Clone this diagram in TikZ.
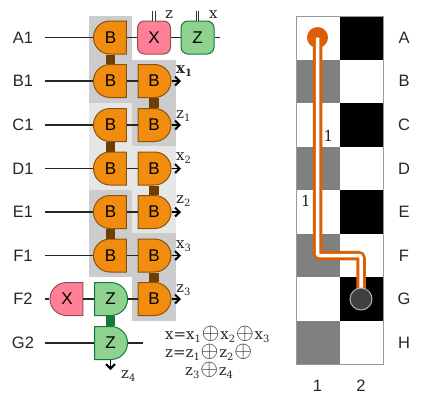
\documentclass[tikz,border=0pt]{standalone}
\usepackage{fontspec}
\usetikzlibrary{shapes.misc,arrows.meta}
\newfontfamily\labfont{Liberation Sans}
\newfontfamily\serfont{DejaVu Serif}
\newcommand{\bop}{\hspace{0.8pt}\raisebox{0.2pt}{\fontsize{17.28}{18}\selectfont\scalebox{1.32}{$\oplus$}}\hspace{0.8pt}}
\newcommand{\sbs}[1]{\raisebox{-3pt}{\fontsize{10}{10}\selectfont #1}}
\definecolor{gdark}{HTML}{CCCCCC}
\definecolor{glight}{HTML}{E6E6E6}
\definecolor{orfill}{HTML}{F28C0F}
\definecolor{ordraw}{HTML}{8A5410}
\definecolor{brownlink}{HTML}{6E3F00}
\definecolor{redfill}{HTML}{FF8096}
\definecolor{reddraw}{HTML}{8C4F5A}
\definecolor{grfill}{HTML}{8FD18F}
\definecolor{grdraw}{HTML}{117A3C}
\definecolor{pathor}{HTML}{DD5F05}
\definecolor{cellgray}{HTML}{808080}
\tikzset{
  x=1pt,y=-1pt,
  lab/.style={font=\labfont\fontsize{16.5}{18}\selectfont,text=black!85,inner sep=0pt},
  ser/.style={font=\serfont\fontsize{15}{18}\selectfont,text=black!85,inner sep=0pt,anchor=base west},
  gatebase/.style={font=\labfont\fontsize{17}{18}\selectfont,minimum width=33pt,minimum height=33pt,inner sep=0pt,line width=1pt,draw},
  lround/.style={gatebase,rounded rectangle,rounded rectangle right arc=none},
  rround/.style={gatebase,rounded rectangle,rounded rectangle left arc=none},
  box/.style={gatebase,rounded corners=7pt,rectangle},
  bgate/.style={fill=orfill,draw=ordraw},
  xgate/.style={fill=redfill,draw=reddraw},
  zgate/.style={fill=grfill,draw=grdraw},
  wire/.style={line width=1.2pt,draw=black!85},
  outw/.style={line width=1.4pt,draw=black,-{Straight Barb[length=4.5pt,width=9pt,line width=2pt]}},
  blink/.style={line width=9.5pt,draw=brownlink},
  glink/.style={line width=9.5pt,draw=grdraw},
  meas/.style={line width=0.9pt,draw=black!80,double,double distance=1.8pt},
}
\begin{document}
\begin{tikzpicture}
\useasboundingbox (0,0) rectangle (425,402);
% shaded groups
\fill[gdark] (89,16) rectangle (132,103);
\fill[gdark] (132,60) rectangle (176,146);
\fill[glight] (89,103) rectangle (132,190);
\fill[glight] (132,146) rectangle (176,233);
\fill[gdark] (89,190) rectangle (132,277);
\fill[gdark] (132,233) rectangle (176,320.5);
% row labels
\node[lab] (lA) at (23,37.5) {A1};
\node[lab] (lB) at (23,81) {B1};
\node[lab] (lC) at (23,125) {C1};
\node[lab] (lD) at (23,168.5) {D1};
\node[lab] (lE) at (23,212) {E1};
\node[lab] (lF) at (23,255.5) {F1};
\node[lab] (lFb) at (23,299) {F2};
\node[lab] (lG) at (23,343) {G2};
\coordinate (sA) at (45,37.5);
\coordinate (sB) at (45,81);
\coordinate (sC) at (45,125);
\coordinate (sD) at (45,168.5);
\coordinate (sE) at (45,212);
\coordinate (sF) at (45,255.5);
\coordinate (sFb) at (45,299);
\coordinate (sG) at (45,343);
% gates
\node[lround,bgate] (a) at (110.5,37.5) {B};
\node[lround,bgate] (b) at (110.5,81) {B};
\node[lround,bgate] (c) at (110.5,125) {B};
\node[lround,bgate] (d) at (110.5,168.5) {B};
\node[lround,bgate] (e) at (110.5,212) {B};
\node[lround,bgate] (f) at (110.5,255.5) {B};
\node[rround,bgate] (b2) at (154,81) {B};
\node[rround,bgate] (c2) at (154,125) {B};
\node[rround,bgate] (d2) at (154,168.5) {B};
\node[rround,bgate] (e2) at (154,212) {B};
\node[rround,bgate] (f2) at (154,255.5) {B};
\node[rround,bgate] (g2) at (154,299) {B};
\node[box,xgate] (mx) at (154,37.5) {X};
\node[box,zgate] (mz) at (197.5,37.5) {Z};
\node[lround,xgate] (px) at (67,299) {X};
\node[rround,zgate] (pz) at (110.5,299) {Z};
\node[rround,zgate] (qz) at (110.5,343) {Z};
% free ends
\coordinate (eA) at (220,37.5);
\coordinate (eG) at (143,343);
\coordinate (mxt) at (154,11);
\coordinate (mzt) at (197.5,11);
\coordinate (ob) at (181,81);
\coordinate (oc) at (181,125);
\coordinate (od) at (181,168.5);
\coordinate (oe) at (181,212);
\coordinate (of) at (181,255.5);
\coordinate (og) at (181,299);
\coordinate (oq) at (110.5,370);
% wires
\draw[wire] (sA) -- (a.west);
\draw[wire] (sB) -- (b.west);
\draw[wire] (sC) -- (c.west);
\draw[wire] (sD) -- (d.west);
\draw[wire] (sE) -- (e.west);
\draw[wire] (sF) -- (f.west);
\draw[wire] (sFb) -- (px.west);
\draw[wire] (sG) -- (qz.west);
\draw[wire] (a.east) -- (mx.west);
\draw[wire] (mx.east) -- (mz.west);
\draw[wire] (mz.east) -- (eA);
\draw[wire] (b.east) -- (b2.west);
\draw[wire] (c.east) -- (c2.west);
\draw[wire] (d.east) -- (d2.west);
\draw[wire] (e.east) -- (e2.west);
\draw[wire] (f.east) -- (f2.west);
\draw[wire] (px.east) -- (pz.west);
\draw[wire] (pz.east) -- (g2.west);
\draw[wire] (qz.east) -- (eG);
\draw[meas] (mx.north) -- (mxt);
\draw[meas] (mz.north) -- (mzt);
% two-qubit links
\draw[blink] (a.south) -- (b.north);
\draw[blink] (c.south) -- (d.north);
\draw[blink] (e.south) -- (f.north);
\draw[blink] (b2.south) -- (c2.north);
\draw[blink] (d2.south) -- (e2.north);
\draw[blink] (f2.south) -- (g2.north);
\draw[glink] (pz.south) -- (qz.north);
% outputs
\draw[outw] (b2.east) -- (ob);
\draw[outw] (c2.east) -- (oc);
\draw[outw] (d2.east) -- (od);
\draw[outw] (e2.east) -- (oe);
\draw[outw] (f2.east) -- (of);
\draw[outw] (g2.east) -- (og);
\draw[outw] (qz.south) -- (oq);
% serif labels
\node[ser] (tz) at (165,18) {z};
\node[ser] (tx) at (209,18) {x};
\node[ser] (x1) at (176,73) {\bfseries x\sbs{1}};
\node[ser] (z1) at (176,118) {z\sbs{1}};
\node[ser] (x2) at (176,160) {x\sbs{2}};
\node[ser] (z2) at (176,203) {z\sbs{2}};
\node[ser] (x3) at (176,248) {x\sbs{3}};
\node[ser] (z3) at (176,292) {z\sbs{3}};
\node[ser] (z4) at (121,378) {z\sbs{4}};
\node[ser,anchor=north west,align=left] (form) at (165,325.5)
  {x=x\sbs{1}\bop x\sbs{2}\bop x\sbs{3}\\
   z=z\sbs{1}\bop z\sbs{2}\bop\\
   \hspace{20pt}z\sbs{3}\bop z\sbs{4}};
% chip grid
\fill[white] (296,16) rectangle (383,364);
\foreach \r in {0,2,4,6} \fill[black] (339.5,{16+43.5*\r}) rectangle (383,{16+43.5*(\r+1)});
\foreach \r in {1,3,5,7} \fill[cellgray] (296,{16+43.5*\r}) rectangle (339.5,{16+43.5*(\r+1)});
\draw[line width=1pt,draw=black!40] (296,16) rectangle (383,364);
\node[lab] (ra) at (404,37.5) {A};
\node[lab] (rb) at (404,81) {B};
\node[lab] (rc) at (404,125) {C};
\node[lab] (rd) at (404,168.5) {D};
\node[lab] (re) at (404,212) {E};
\node[lab] (rf) at (404,255.5) {F};
\node[lab] (rg) at (404,299) {G};
\node[lab] (rh) at (404,343) {H};
\node[lab] (c1) at (317.5,386) {1};
\node[lab] (c2l) at (361,386) {2};
\node[ser,anchor=center] (n1) at (328.5,136) {1};
\node[ser,anchor=center] (n2) at (306,201) {1};
% path
\node[circle,fill=pathor,minimum size=21pt,inner sep=0pt] (qa) at (317.5,37.5) {};
\coordinate (qgc) at (361,299);
\coordinate (bend) at (317.5,255.5);
\draw[pathor,line width=9.5pt,rounded corners=3pt] (qa.center) -- (bend) -| (qgc);
\draw[white,line width=3.5pt,rounded corners=2pt] (qa.center) -- (bend) -| (qgc);
\node[circle,fill=black!75,draw=black!30,line width=1pt,minimum size=22pt,inner sep=0pt] (qg) at (qgc) {};
\end{tikzpicture}
\end{document}
